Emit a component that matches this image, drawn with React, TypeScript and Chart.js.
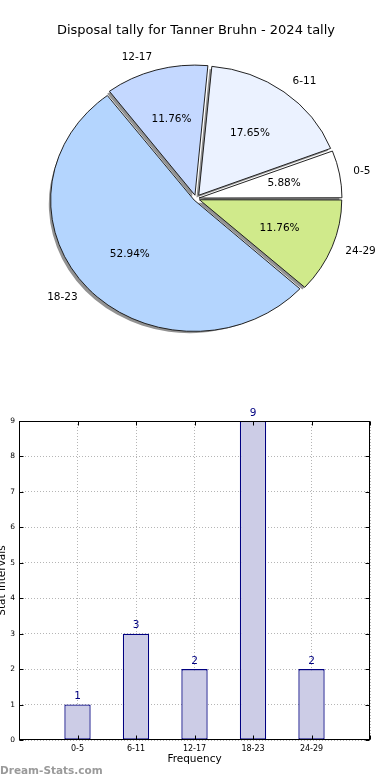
import React, { useEffect, useRef } from 'react';
import { Chart, registerables } from 'chart.js';

Chart.register(...registerables);

// ---------------- data ----------------
const categories: string[] = ['0-5', '6-11', '12-17', '18-23', '24-29'];
const counts: number[] = [1, 3, 2, 9, 2];
const sliceColors: string[] = ['#ffffff', '#ebf2ff', '#c4d8ff', '#b4d5fe', '#d0ea8b'];
const yMax = 9;
const chartTitle = 'Disposal tally for Tanner Bruhn - 2024 tally';
const xTitle = 'Frequency';
const yTitle = 'Stat Intervals';
const watermark = 'Dream-Stats.com';

// ---------------- styling ----------------
const FONT = "'DejaVu Sans', 'Liberation Sans', sans-serif";
const PIE_SCALE_Y = 0.915;
const EXPLODE = 5;

Chart.defaults.font.family = FONT;
Chart.defaults.color = '#000';

// pie drawn clockwise from east in Chart.js; reverse to mimic counter-clockwise order
const pieLabels = [...categories].reverse();
const pieValues = [...counts].reverse();
const pieColors = [...sliceColors].reverse();

const pieDecor = {
  id: 'pieDecor',
  beforeDatasetsDraw(chart: any) {
    const ctx = chart.ctx as CanvasRenderingContext2D;
    const arcs = chart.getDatasetMeta(0).data;
    ctx.save();
    if (!arcs.length) return;
    const p0 = arcs[0].getProps(['x', 'y'], true);
    const cx = p0.x, cy = p0.y;
    ctx.translate(cx, cy);
    ctx.scale(1, PIE_SCALE_Y);
    ctx.translate(-cx, -cy);
    ctx.fillStyle = '#929292';
    arcs.forEach((el: any) => {
      const { x, y, startAngle, endAngle, outerRadius } = el.getProps(
        ['x', 'y', 'startAngle', 'endAngle', 'outerRadius'], true);
      const mid = (startAngle + endAngle) / 2;
      const ox = x + Math.cos(mid) * EXPLODE - 2.5;
      const oy = y + Math.sin(mid) * EXPLODE + 2.5 / PIE_SCALE_Y;
      ctx.beginPath();
      ctx.moveTo(ox, oy);
      ctx.arc(ox, oy, outerRadius, startAngle, endAngle);
      ctx.closePath();
      ctx.fill();
    });
  },
  afterDatasetsDraw(chart: any) {
    const ctx = chart.ctx as CanvasRenderingContext2D;
    ctx.restore();
    const meta = chart.getDatasetMeta(0);
    const values = chart.data.datasets[0].data as number[];
    const total = values.reduce((s, v) => s + v, 0);
    ctx.save();
    ctx.fillStyle = '#000';
    ctx.font = `10.5px ${FONT}`;
    ctx.textBaseline = 'middle';
    meta.data.forEach((el: any, i: number) => {
      const { x, y, startAngle, endAngle, outerRadius } = el.getProps(
        ['x', 'y', 'startAngle', 'endAngle', 'outerRadius'], true);
      const mid = (startAngle + endAngle) / 2;
      const c = Math.cos(mid), s = Math.sin(mid);
      const lr = EXPLODE + 1.1 * outerRadius;
      const pr = EXPLODE + 0.6 * outerRadius;
      ctx.textAlign = c > 0 ? 'left' : 'right';
      ctx.fillText(String(chart.data.labels[i]), x + c * lr, y + s * lr * PIE_SCALE_Y);
      ctx.textAlign = 'center';
      ctx.fillText(((values[i] / total) * 100).toFixed(2) + '%', x + c * pr, y + s * pr * PIE_SCALE_Y);
    });
    ctx.restore();
  },
};

const barDecor = {
  id: 'barDecor',
  afterDatasetsDraw(chart: any) {
    const ctx = chart.ctx as CanvasRenderingContext2D;
    const meta = chart.getDatasetMeta(0);
    const data = chart.data.datasets[0].data as (number | null)[];
    ctx.save();
    ctx.fillStyle = '#000080';
    ctx.font = `10.5px ${FONT}`;
    ctx.textAlign = 'center';
    ctx.textBaseline = 'alphabetic';
    meta.data.forEach((el: any, i: number) => {
      const v = data[i];
      if (v === null || v === undefined) return;
      const { x, y } = el.getProps(['x', 'y'], true);
      ctx.fillText(String(v), x, y - 5.5);
    });
    ctx.restore();
  },
  afterDraw(chart: any) {
    const ctx = chart.ctx as CanvasRenderingContext2D;
    const { left, right, top, bottom } = chart.chartArea;
    const xs = chart.scales.x, ys = chart.scales.y;
    ctx.save();
    ctx.strokeStyle = '#000';
    ctx.lineWidth = 1;
    const L = Math.round(left) + 0.5, R = Math.round(right) - 0.5;
    const T = Math.round(top) + 0.5, B = Math.round(bottom) - 0.5;
    ctx.strokeRect(L, T, R - L, B - T);
    ctx.beginPath();
    ys.ticks.forEach((t: any) => {
      const py = Math.round(ys.getPixelForValue(t.value)) + 0.5;
      ctx.moveTo(L, py); ctx.lineTo(L + 4, py);
      ctx.moveTo(R, py); ctx.lineTo(R - 4, py);
    });
    xs.ticks.forEach((t: any, i: number) => {
      const px = Math.round(xs.getPixelForTick(i)) + 0.5;
      ctx.moveTo(px, B); ctx.lineTo(px, B - 4);
      ctx.moveTo(px, T); ctx.lineTo(px, T + 4);
    });
    ctx.stroke();
    // watermark
    ctx.fillStyle = '#9a9a9a';
    ctx.font = `bold 10.5px ${FONT}`;
    ctx.textAlign = 'left';
    ctx.textBaseline = 'alphabetic';
    ctx.fillText(watermark, 0, chart.height - 6);
    ctx.restore();
  },
};

export default function App() {
  const pieRef = useRef<HTMLCanvasElement>(null);
  const barRef = useRef<HTMLCanvasElement>(null);

  useEffect(() => {
    const pieTotal = pieValues.reduce((s, v) => s + v, 0);
    const pie = new Chart(pieRef.current as HTMLCanvasElement, {
      type: 'pie',
      data: {
        labels: pieLabels,
        datasets: [
          {
            data: pieValues,
            backgroundColor: pieColors,
            borderColor: '#1a1a1a',
            borderWidth: 1,
            borderJoinStyle: 'miter',
            hoverOffset: 0,
            clip: false,
            offset: (c: any) => {
              const v = c.dataset.data[c.dataIndex] as number;
              const circ = (v / pieTotal) * Math.PI * 2;
              const fix = 1 - Math.sin(Math.min(Math.PI, circ));
              return (EXPLODE * 4) / (1 + fix);
            },
          } as any,
        ],
      },
      options: {
        animation: false,
        responsive: false,
        devicePixelRatio: 1,
        rotation: 90,
        radius: 141,
        layout: { padding: { left: 2, right: 0, top: 0, bottom: 0 } },
        events: [],
        plugins: {
          legend: { display: false },
          tooltip: { enabled: false },
          title: {
            display: true,
            text: chartTitle,
            color: '#000',
            font: { family: FONT, size: 13, weight: 'normal' },
            padding: { top: 22.5, bottom: 10 },
          },
        },
      } as any,
      plugins: [pieDecor],
    });

    const barLabels = ['', ...categories, ''];
    const barData = [null, ...counts, null];
    const bar = new Chart(barRef.current as HTMLCanvasElement, {
      type: 'bar',
      data: {
        labels: barLabels,
        datasets: [
          {
            data: barData,
            backgroundColor: '#ccccE6',
            borderColor: '#000080',
            borderWidth: 1.3,
            borderSkipped: false,
            barPercentage: 0.45,
            categoryPercentage: 1,
          } as any,
        ],
      },
      options: {
        animation: false,
        responsive: false,
        devicePixelRatio: 1,
        events: [],
        layout: { padding: { top: 21, right: 20, left: 0, bottom: 0 } },
        plugins: {
          legend: { display: false },
          tooltip: { enabled: false },
        },
        scales: {
          x: {
            type: 'category',
            offset: false,
            z: 1,
            grid: { color: '#b5b5b5', lineWidth: 1, drawTicks: false, offset: false },
            border: { display: false, dash: [1, 2] },
            ticks: { font: { family: FONT, size: 8 }, color: '#000', padding: 4, autoSkip: false, maxRotation: 0 },
            title: {
              display: true,
              text: xTitle,
              color: '#000',
              font: { family: FONT, size: 10.5 },
              padding: { top: 0, bottom: 14 },
            },
            afterFit: (scale: any) => { scale.height = 40; },
          },
          y: {
            min: 0,
            max: yMax,
            z: 1,
            grid: { color: '#b5b5b5', lineWidth: 1, drawTicks: false },
            border: { display: false, dash: [1, 2] },
            ticks: { stepSize: 1, font: { family: FONT, size: 7.5 }, color: '#000', padding: 4 },
            title: {
              display: true,
              text: yTitle,
              color: '#000',
              font: { family: FONT, size: 10.5 },
              padding: { top: -4.1, bottom: 0 },
            },
            afterFit: (scale: any) => { scale.width = 19; },
          },
        },
      } as any,
      plugins: [barDecor],
    });

    return () => {
      pie.destroy();
      bar.destroy();
    };
  }, []);

  return (
    <div
      style={{
        position: 'absolute',
        left: 0,
        top: 0,
        width: 390,
        height: 780,
        background: '#fff',
        overflow: 'hidden',
      }}
    >
      <canvas
        ref={pieRef}
        width={390}
        height={349}
        style={{ position: 'absolute', left: 0, top: 0, width: 390, height: 349 }}
      />
      <canvas
        ref={barRef}
        width={390}
        height={380}
        style={{ position: 'absolute', left: 0, top: 400, width: 390, height: 380 }}
      />
    </div>
  );
}
